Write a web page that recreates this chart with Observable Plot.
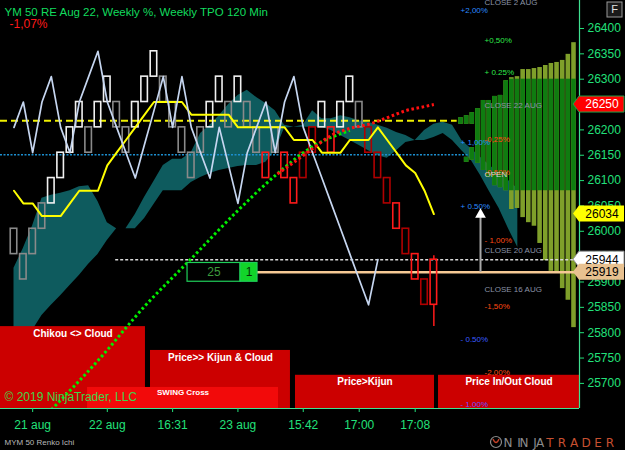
<!DOCTYPE html>
<html>
<head>
<meta charset="utf-8">
<script src="https://cdn.jsdelivr.net/npm/d3@7"></script>
<script src="https://cdn.jsdelivr.net/npm/@observablehq/plot@0.6"></script>
<style>
html,body{margin:0;padding:0;background:#000;}
#chart{width:625px;height:450px;overflow:hidden;background:#000;}
#chart svg{display:block;}
</style>
</head>
<body>
<div id="chart"></div>
<script>
// ================= DATA =================
const titleText = "YM 50 RE Aug 22, Weekly %, Weekly TPO 120 Min";
const changeText = "-1,07%";
const instrumentText = "MYM 50 Renko Ichi";
const copyrightText = "© 2019 NinjaTrader, LLC";

const priceTicks = [25700,25750,25800,25850,25900,25950,26000,26050,26100,26150,26200,26250,26300,26350,26400];
const timeTickIndex = [3,11,18,25,32,38,44];
const timeTickLabels = ["21 aug","22 aug","16:31","23 aug","15:42","17:00","17:08"];

// Renko bricks (bar index 1..45), box size 50
const boxSize = 50;
const brickLow = [25955,25905,25955,26005,26055,26105,26155,26205,26155,26205,
                  26255,26205,26155,26205,26255,26305,26255,26205,26155,26105,
                  26155,26205,26255,26205,26255,26205,26155,26105,26155,26105,
                  26055,26105,26155,26205,26155,26205,26255,26205,26155,26105,
                  26055,26005,25955,25905,25855];
const brickKind = ["G","G","G","G","W","W","W","W","G","W",
                   "W","G","G","W","W","W","G","G","G","G",
                   "G","W","W","G","W","G","G","R","G","R",
                   "R","D","D","W","R","W","W","G","D","D",
                   "D","R","D","R","D"];
// last (forming) bar, index 46
const lastOpen = 25944, lastClose = 25855, lastHigh = 25952, lastLow = 25812;

// Ichimoku
const kijun = [26080,26055,26055,26030,26030,26030,26055,26080,26080,26080,
               26130,26155,26180,26205,26230,26255,26255,26255,26255,26230,
               26230,26230,26230,26230,26205,26205,26205,26205,26205,26205,
               26180,26180,26180,26155,26155,26155,26180,26180,26180,26205,
               26180,26155,26130,26115,26080,26034];
const chikou = [26205,26255,26155,26255,26305,26205,26155,26255,26305,26355,
                26255,26205,26155,26105,26172,26238,26305,26205,26305,26205,
                26155,26105,26205,26130,26055,26155,26205,26255,26155,26255,
                26305,26205,26155,26105,26055,26005,25955,25905,25855,25944];
const cloudTop = [25927,25966,26011,26065,26071,26075,26080,26088,26090,26059,
                  26017,26005,26005,26033,26067,26098,26130,26142,26142,26155,
                  26193,26209,26228,26250,26268,26278,26264,26252,26238,26209,
                  26205,26209,26238,26222,26222,26228,26224,26218,26215,26209,
                  26203,26195,26189,26179,26199,26211,26215,26209,26179,26163,
                  26146,26130,26114,26100,26084];
const cloudBottom = [25745,25775,25805,25834,25854,25873,25893,25913,25935,25954,
                     25982,26005,26005,26005,26025,26053,26080,26080,26080,26096,
                     26106,26114,26120,26124,26128,26130,26130,26136,26159,26203,
                     26205,26205,26205,26205,26199,26189,26179,26169,26159,26149,
                     26144,26159,26175,26179,26179,26185,26193,26179,26159,26140,
                     26110,26077,26045,26005,25968];

// dotted trend (green) and curve (red)
const trendIndex = [5,10,15,20,25,29,33,37];
const trendValue = [25648,25745,25852,25946,26041,26110,26167,26199];
const curveIndex = [29,31,33,35,37,39,41,43,45,46];
const curveValue = [26110,26136,26163,26189,26203,26211,26224,26238,26246,26250];

// horizontal levels
const weeklyDashLevel = 26218;
const weeklyDotLevel = 26151;
const lastTradeLevel = 25944;
const currentLevel = 25919;
const arrowTopLevel = 26033;

// Weekly TPO profile: columns counted from the right
const tpoTop =    [26372,26349,26337,26333,26331,26327,26323,26321,26319,26319,26305,26303,26297,26268,26266,26258,26258,26242,26234,26228,26224];
const tpoBottom = [25810,25864,25887,25919,25921,25942,25976,26010,26017,26027,26045,26043,26080,26086,26090,26106,26120,26134,26211,26211,26211];
const tpoExtraCol = [18,19];
const tpoExtraTop = [26165,26146];
const tpoExtraBottom = [26140,26136];
const valueAreaHigh = 26300, valueAreaLow = 26080;

// weekly % level labels
const levelText  = ["CLOSE 2 AUG","+2,00%","+0,50%","+ 0.25%","CLOSE 22 AUG","+ 1,00%","-0,25%","-0,50%","OPEN","+ 0.50%","- 1,00%","CLOSE 20 AUG","CLOSE 16 AUG","-1,50%","- 0.50%","-2,00%","- 1.00%"];
const levelPrice = [26451,26435,26376,26313,26248,26175,26181,26116,26112,26049,25982,25962,25885,25852,25787,25721,25658];
const levelKind  = ["close","blue","green","green","close","blue","orange","orange","open","blue","orange","close","close","orange","blue2","orange","purple"];
const levelColumn= ["b","a","b","b","b","a","b","b","b","a","b","b","b","b","a","b","a"];

// signal panels
const signalText  = ["Chikou <> Cloud","Price>> Kijun & Cloud","SWING Cross","Price>Kijun","Price In/Out Cloud"];
const signalStart = [-0.45,15.63,8.88,31.17,46.5];
const signalEnd   = [15.09,30.63,29.35,46.07,61.61];
const signalTop   = [25812,25765,25692,25716,25716];

const tpoBoxCount = "25", tpoBoxPeriods = "1";
const tagValues = [26250, 26034, 25944, 25919];

// ================= LAYOUT / STYLE =================
const xMin = -0.447, xMax = 61.61, yMin = 25650.5, yMax = 26455.2;
const green = "#22e07a";
const font = "'Liberation Sans', Arial, sans-serif";
const kindColor = {W:"#f0f0f0", G:"#8a8a8a", R:"#ff1a1a", D:"#b00000"};
const levelColor = {close:"#8a93a6", open:"#d4d4d4", blue:"#2b8cff", blue2:"#3a5cff", purple:"#6a4cff", green:"#2ee84a", orange:"#ff4a14"};
const levelX = {a:48.86, b:51.43};
const profRight = 61.02, profStep = 0.6056, profHalf = 0.245;
const tagFill = ["#ff0000","#ffff00","#ffffff","#e8c190"];
const tagInk  = ["#ffffff","#000000","#000000","#000000"];
const tagStroke = ["#1fa34a","none","#999999","none"];

// ================= BUILD =================
const bricks = brickLow.map((lo,k)=>({i:k+1, lo, hi:lo+boxSize, c:kindColor[brickKind[k]]}));
const lastI = brickLow.length + 1;
bricks.push({i:lastI, lo:lastClose, hi:lastOpen, c:kindColor.R});
const cloud = cloudTop.map((t,k)=>({i:k+1, top:t, bot:cloudBottom[k]}));
const kijunData = kijun.map((v,k)=>({i:k+1, v}));
const chikouData = chikou.map((v,k)=>({i:k+1, v}));
const trendData = trendIndex.map((i,k)=>({i, v:trendValue[k]}));
const curveData = curveIndex.map((i,k)=>({i, v:curveValue[k]}));
const prof = tpoTop.map((t,k)=>({k, top:t, bot:tpoBottom[k]}))
  .concat(tpoExtraCol.map((k,j)=>({k, top:tpoExtraTop[j], bot:tpoExtraBottom[j]})));
const profVA = prof.filter(c=>c.top>valueAreaLow && c.bot<valueAreaHigh);
const px1 = c => profRight - c.k*profStep - profHalf;
const px2 = c => profRight - c.k*profStep + profHalf;
const levels = levelText.map((t,k)=>({t, p:levelPrice[k], c:levelColor[levelKind[k]], x:levelX[levelColumn[k]]}));
const signals = signalText.map((t,k)=>({t, x1:signalStart[k], x2:signalEnd[k], top:signalTop[k], swing: t.startsWith("SWING")}));
const mainSignals = signals.filter(d=>!d.swing);
const swingSignals = signals.filter(d=>d.swing);
const midX = d => (Math.max(d.x1,xMin)+Math.min(d.x2,xMax))/2;

const boxX1 = 19.6, boxXs = 25.28, boxX2 = 27.1, boxHalf = 18.5;
const arrowI = 51.0;
const dotted = {strokeWidth:3, strokeDasharray:"2.6,2.6", strokeLinecap:"butt", strokeLinejoin:"miter"};

const plot = Plot.plot({
  width: 625, height: 450,
  marginTop: 0, marginLeft: 0, marginRight: 46, marginBottom: 42,
  x: {domain:[xMin,xMax]},
  y: {domain:[yMin,yMax]},
  color: {type:"identity"},
  style: {background:"#000", color:green, fontFamily:font, fontSize:"12px", overflow:"visible"},
  marks: [
    Plot.areaY(cloud, {x:"i", y1:"bot", y2:"top", fill:"#0e5b5e"}),
    Plot.ruleY([weeklyDashLevel], {x1:xMin, x2:48.5, stroke:"#f0f000", strokeWidth:2, strokeDasharray:"7,4"}),
    Plot.ruleY([weeklyDotLevel], {x1:xMin, x2:49.7, stroke:"#1c8fd0", strokeWidth:1.5, strokeDasharray:"2,1.5"}),
    Plot.rect(prof, {x1:px1, x2:px2, y1:"bot", y2:"top", fill:"#7f9f2a"}),
    Plot.rect(profVA, {x1:px1, x2:px2, y1:c=>Math.max(c.bot,valueAreaLow), y2:c=>Math.min(c.top,valueAreaHigh), fill:"#0f7c10"}),
    Plot.rect(mainSignals, {x1:"x1", x2:"x2", y1:yMin, y2:"top", fill:"#cc0000", clip:true}),
    Plot.text(mainSignals, {x:midX, y:"top", text:"t", fill:"#ffffff", fontWeight:"bold", fontSize:10, dy:7, lineAnchor:"middle"}),
    Plot.rect(swingSignals, {x1:"x1", x2:"x2", y1:yMin, y2:"top", fill:"#f20a0a", clip:true}),
    Plot.text(swingSignals, {x:midX, y:"top", text:"t", fill:"#ffffff", fontWeight:"bold", fontSize:8, dy:5, lineAnchor:"middle"}),
    Plot.text(levels, {x:"x", y:"p", text:"t", fill:"c", textAnchor:"start", fontSize:8}),
    Plot.ruleY([lastTradeLevel], {x1:11.9, x2:xMax, stroke:"#d8d8d8", strokeWidth:1.5, strokeDasharray:"3,2"}),
    Plot.ruleY([currentLevel], {x1:boxX2, x2:xMax, stroke:"#f6c995", strokeWidth:2.5}),
    Plot.ruleX([lastI], {x:d=>d, y1:lastOpen, y2:lastHigh, stroke:kindColor.R, strokeWidth:1.5}),
    Plot.ruleX([lastI], {x:d=>d, y1:lastLow, y2:lastClose, stroke:kindColor.R, strokeWidth:1.5}),
    Plot.rect(bricks, {x1:d=>d.i-0.35, x2:d=>d.i+0.35, y1:"lo", y2:"hi", fill:"none", stroke:"c", strokeWidth:1.6}),
    Plot.line(kijunData, {x:"i", y:"v", stroke:"#ffff00", strokeWidth:2}),
    Plot.line(chikouData, {x:"i", y:"v", stroke:"#c6d6f0", strokeWidth:1.7}),
    Plot.line(trendData, {x:"i", y:"v", stroke:"#00ee00", curve:"monotone-x", clip:true, ...dotted}),
    Plot.line(curveData, {x:"i", y:"v", stroke:"#ff1010", curve:"monotone-x", strokeDashoffset:2.6, ...dotted}),
    Plot.rect([currentLevel], {x1:boxX1, x2:boxXs, y1:d=>d-boxHalf, y2:d=>d+boxHalf, fill:"#000", stroke:"#1fcf5a", strokeWidth:1.2}),
    Plot.rect([currentLevel], {x1:boxXs, x2:boxX2, y1:d=>d-boxHalf, y2:d=>d+boxHalf, fill:"#12d42a", stroke:"#1fcf5a", strokeWidth:1.2}),
    Plot.text([tpoBoxCount], {x:(boxX1+boxXs)/2, y:currentLevel, text:d=>d, fill:"#3d9a3d", fontSize:12}),
    Plot.text([tpoBoxPeriods], {x:(boxXs+boxX2)/2, y:currentLevel, text:d=>d, fill:"#063006", fontSize:12}),
    Plot.ruleX([arrowI], {x:d=>d, y1:currentLevel, y2:arrowTopLevel, stroke:"#a8a8a8", strokeWidth:2}),
    Plot.dot([arrowI], {x:d=>d, y:arrowTopLevel, symbol:"triangle", r:4, fill:"#ffffff", stroke:"none"}),
    Plot.ruleX([xMax], {stroke:"#40e090", strokeWidth:1.2}),
    Plot.ruleY([yMin], {stroke:"#40e090", strokeWidth:1.2}),
    Plot.axisY(priceTicks, {anchor:"right", tickSize:4, tickPadding:4, fontSize:12, tickFormat:d=>String(d), label:null}),
    Plot.axisX(timeTickIndex, {anchor:"bottom", tickSize:4, tickPadding:8, fontSize:12, tickFormat:d=>timeTickLabels[timeTickIndex.indexOf(d)], label:null}),
    Plot.text([titleText], {frameAnchor:"top-left", dx:4, dy:12, lineAnchor:"middle", textAnchor:"start", fill:"#12dc5e", fontSize:11.5}),
    Plot.text([changeText], {frameAnchor:"top-left", dx:9, dy:24, lineAnchor:"middle", textAnchor:"start", fill:"#ff1a1a", fontSize:12}),
    Plot.text([copyrightText], {frameAnchor:"bottom-left", dx:4, dy:-11, lineAnchor:"middle", textAnchor:"start", fill:"#3fd44a", fontSize:12}),
    Plot.text([instrumentText], {frameAnchor:"bottom-left", dx:4, dy:34, lineAnchor:"middle", textAnchor:"start", fill:"#b8b8b8", fontSize:8})
  ]
});

document.getElementById("chart").appendChild(plot);

// price tags on the right axis, positioned through the plot's y scale
const svg = d3.select(plot);
const yS = plot.scale("y");
tagValues.forEach((v,k)=>{
  const y = yS.apply(v);
  const g = svg.append("g");
  g.append("path")
    .attr("d", `M573,${y} L579,${y-8} L624,${y-8} L624,${y+8} L579,${y+8} Z`)
    .attr("fill", tagFill[k]).attr("stroke", tagStroke[k]).attr("stroke-width", 1);
  g.append("text").attr("x", 602).attr("y", y).attr("dy","0.36em")
    .attr("text-anchor","middle").attr("fill", tagInk[k])
    .attr("font-size", 12).attr("font-family", font)
    .text(String(v));
});
// "F" button
svg.append("rect").attr("x",607).attr("y",2).attr("width",15).attr("height",15)
  .attr("fill","#1a1a1a").attr("stroke","#9a9a9a");
svg.append("text").attr("x",614.5).attr("y",9.5).attr("dy","0.36em").attr("text-anchor","middle")
  .attr("fill","#e0e0e0").attr("font-size",11).attr("font-family",font).text("F");
// NinjaTrader logo
svg.append("circle").attr("cx",496).attr("cy",442).attr("r",5.5).attr("fill","none").attr("stroke","#8a8a8a").attr("stroke-width",1.2);
svg.append("path").attr("d","M493,439 Q496,446 499,439").attr("fill","none").attr("stroke","#c04028").attr("stroke-width",1.4);
svg.append("text").attr("x","508 519 524 535 540").attr("y",447).attr("font-size",12)
  .attr("font-family","'DejaVu Sans', sans-serif")
  .attr("fill","#8c8c8c").text("NINJA");
svg.append("text").attr("x","550 562 574 586 598 610").attr("y",447).attr("font-size",12)
  .attr("font-family","'DejaVu Sans', sans-serif")
  .attr("fill","#c85030").text("TRADER");
</script>
</body>
</html>
